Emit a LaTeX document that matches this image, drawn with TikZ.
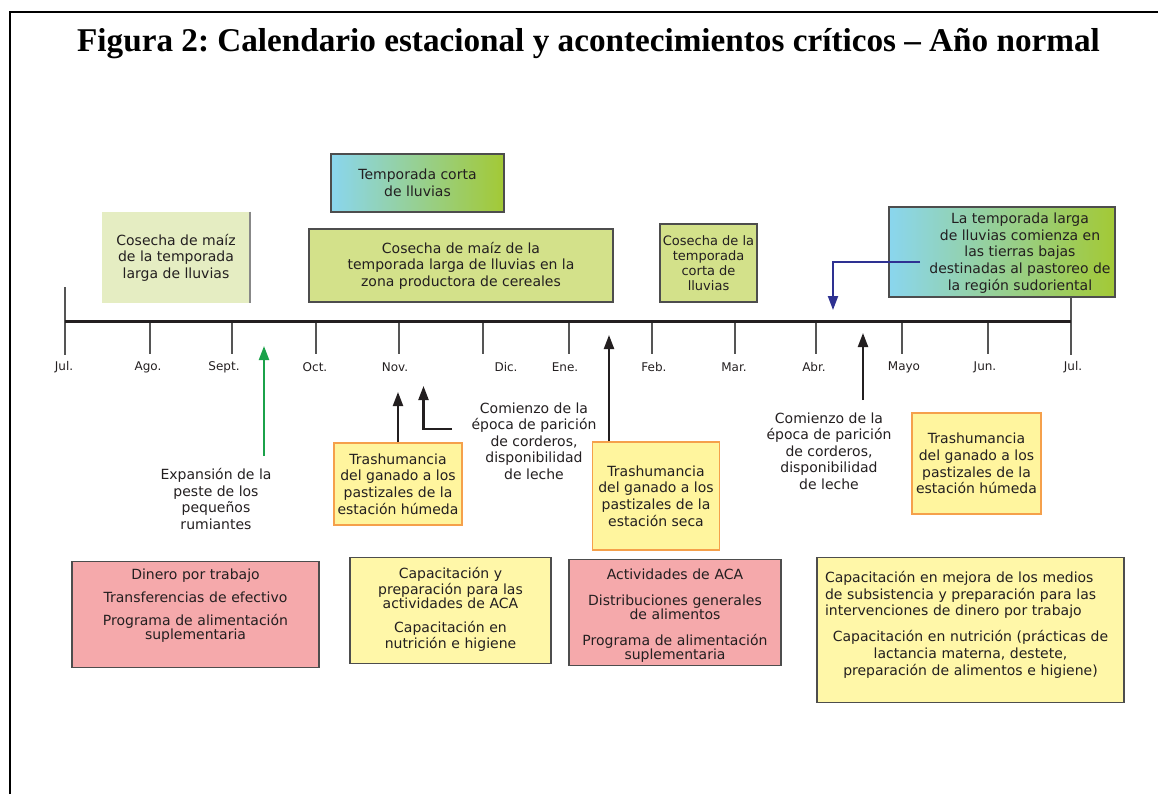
\documentclass[tikz,border=0pt]{standalone}
\usepackage{fontspec}
\newfontfamily\cajafont{DejaVu Sans}
\newfontfamily\titulofont{Liberation Serif}
\usetikzlibrary{arrows.meta}
\frenchspacing

\definecolor{tinta}{HTML}{231F20}
\definecolor{borde}{HTML}{4D4D4D}
\definecolor{cielo}{HTML}{8AD6EE}
\definecolor{pasto}{HTML}{A3C935}
\definecolor{maizclaro}{HTML}{E5EDC2}
\definecolor{maiz}{HTML}{D3E18A}
\definecolor{naranja}{HTML}{F5A04B}
\definecolor{limon}{HTML}{FFF59E}
\definecolor{rosa}{HTML}{F5A9AB}
\definecolor{crema}{HTML}{FFF7A8}
\definecolor{verde}{HTML}{1BA24A}
\definecolor{azul}{HTML}{2E3192}
\definecolor{gris}{HTML}{555555}

\begin{document}
\begin{tikzpicture}
  [x=0.5pt,y=-0.5pt,
   texto/.style={font=\cajafont\fontsize{7}{8.3}\selectfont,text=tinta,align=center,inner sep=1pt},
   caja/.style={texto,draw=borde,line width=0.7pt},
   lluvia/.style={caja,left color=cielo,right color=pasto},
   cosecha/.style={caja,fill=maiz},
   trash/.style={caja,fill=limon,draw=naranja,line width=0.9pt},
   accion/.style={caja,font=\cajafont\fontsize{7}{7}\selectfont,anchor=north,inner ysep=2pt,inner xsep=3pt},
   mes/.style={texto,font=\cajafont\fontsize{6}{7}\selectfont},
   titulo/.style={font=\titulofont\bfseries\fontsize{16.6}{19}\selectfont,text=black,anchor=base},
   eje/.style={line width=1.5pt,draw=tinta},
   marca/.style={line width=0.75pt,draw=gris},
   flecha/.style={-{Triangle[width=5pt,length=7pt]},line width=1.1pt,draw=tinta}]

  \useasboundingbox (0,0) rectangle (1158,794);
  \draw[line width=1pt] (10,794) |- (1158,11.5);

  \node[titulo] (titulo) at (588.5,51) {Figura 2: Calendario estacional y acontecimientos críticos – Año normal};

  % cajas de arriba
  \node[lluvia,minimum width=86.5pt,minimum height=29pt] (corta) at (417.5,183) {Temporada corta\\de lluvias};
  \node[texto,fill=maizclaro,minimum width=74pt,minimum height=45.5pt] (maizlarga) at (176,257.5) {Cosecha de maíz\\de la temporada\\larga de lluvias};
  \draw[draw=gris!70,line width=1pt] (maizlarga.north east) -- (maizlarga.south east);
  \node[cosecha,minimum width=152pt,minimum height=36.5pt] (maizcereal) at (461,265.5) {Cosecha de maíz de la\\temporada larga de lluvias en la\\zona productora de cereales};
  \node[cosecha,minimum width=48.5pt,minimum height=39pt,font=\cajafont\fontsize{6.5}{7.5}\selectfont] (cosechacorta) at (708.5,263) {Cosecha de la\\temporada\\corta de\\lluvias};
  \node[lluvia,minimum width=113pt,minimum height=45pt] (larga) at (1002,252) {};
  \node[texto] (largatxt) at (1020,253) {La temporada larga\\de lluvias comienza en\\las tierras bajas\\destinadas al pastoreo de\\la región sudoriental};

  % linea de tiempo
  \coordinate (ini) at (65,321);
  \coordinate (fin) at (1071,321);
  \draw[marca] (65,287) -- (65,355);
  \draw[marca] (larga.south -| fin) -- (1071,355);
  \node[mes] (jul1) at (64,367) {Jul.};
  \node[mes] (jul2) at (1073,367) {Jul.};
  \foreach \x/\lx/\mes [count=\i] in {150/148/Ago.,232/224/Sept.,316/315/Oct.,399/395/Nov.,483/506/Dic.,569/565/Ene.,652/654/Feb.,735/734/Mar.,816/814/Abr.,902/904/Mayo,988/985/Jun.}
  {
    \draw[marca] (\x,321) -- (\x,354);
    \node[mes] (m\i) at (\lx,367) {\mes};
  }
  \draw[eje] (ini) -- (fin);

  \coordinate (azul0) at (920,262);
  \coordinate (azul1) at (833,310);
  \draw[-{Triangle[width=5pt,length=7pt]},line width=1pt,draw=azul] (azul0) -| (azul1);

  % acontecimientos
  \node[texto] (peste) at (216,499) {Expansión de la\\peste de los\\pequeños\\rumiantes};
  \node[trash,minimum width=64pt,minimum height=41pt] (trashum1) at (398,484) {Trashumancia\\del ganado a los\\pastizales de la\\estación húmeda};
  \node[texto] (paricion1) at (534,441) {Comienzo de la\\época de parición\\de corderos,\\disponibilidad\\de leche};
  \node[trash,minimum width=63.5pt,minimum height=54pt] (trashum2) at (656,496) {Trashumancia\\del ganado a los\\pastizales de la\\estación seca};
  \node[texto] (paricion2) at (829,451) {Comienzo de la\\época de parición\\de corderos,\\disponibilidad\\de leche};
  \node[trash,minimum width=64.5pt,minimum height=50.5pt] (trashum3) at (976.5,463.5) {Trashumancia\\del ganado a los\\pastizales de la\\estación húmeda};

  \coordinate (v0) at (264,456);
  \coordinate (v1) at (264,346);
  \coordinate (n1) at (398,392);
  \coordinate (h0) at (452,429);
  \coordinate (h1) at (423.5,386);
  \coordinate (a3) at (609,335);
  \coordinate (a4) at (863,400);
  \coordinate (a5) at (863,333);
  \draw[flecha,draw=verde] (v0) -- (v1);
  \draw[flecha] (trashum1.north) -- (n1);
  \draw[flecha] (h0) -| (h1);
  \draw[flecha] (trashum2.north -| a3) -- (a3);
  \draw[flecha] (a4) -- (a5);

  % intervenciones
  \node[accion,fill=rosa,text width=117.5pt,text height=7pt,text depth=42pt] (dinero) at (195.5,561)
    {Dinero por trabajo\\[4.5pt]Transferencias de efectivo\\[4.5pt]Programa de alimentación\\suplementaria};
  \node[accion,fill=crema,text width=94.5pt,text height=8.5pt,text depth=40.5pt] (capaca) at (450.5,557)
    {Capacitación y\\preparación para las\\actividades de ACA\\[5pt]Capacitación en\\nutrición e higiene};
  \node[accion,fill=rosa,text width=100pt,text height=8pt,text depth=41pt] (aca) at (675,559)
    {Actividades de ACA\\[6pt]Distribuciones generales\\de alimentos\\[6pt]Programa de alimentación\\suplementaria};
  \node[accion,fill=crema,font=\cajafont\fontsize{7}{8.3}\selectfont,inner xsep=4pt,text width=145.5pt,text height=10.5pt,text depth=58pt] (medios) at (970.5,557)
    {\raggedright Capacitación en mejora de los medios\\de subsistencia y preparación para las\\intervenciones de dinero por trabajo\par
     \vspace{4.7pt}\centering Capacitación en nutrición (prácticas de\\lactancia materna, destete,\\preparación de alimentos e higiene)\par};

\end{tikzpicture}
\end{document}
